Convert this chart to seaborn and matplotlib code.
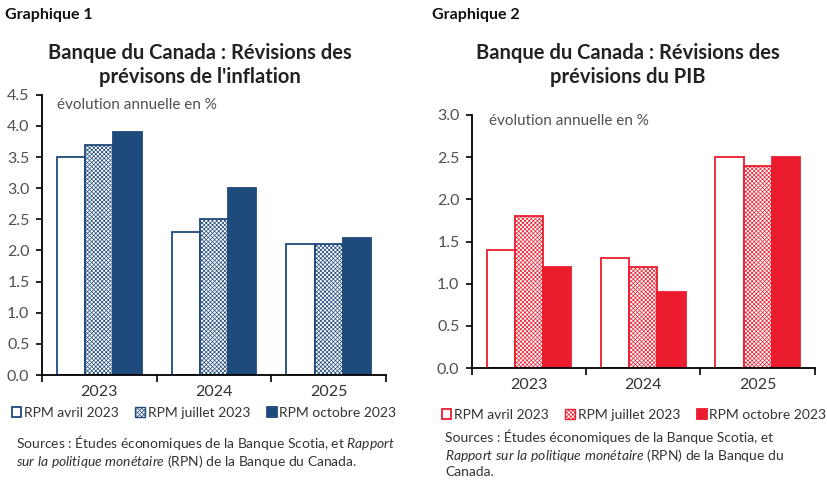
import pandas as pd
import seaborn as sns
import matplotlib.pyplot as plt
from matplotlib.patches import Patch

# Data
years = ['2023', '2024', '2025']
series = ['RPM avril 2023', 'RPM juillet 2023', 'RPM octobre 2023']
inflation_avr = [3.5, 2.3, 2.1]
inflation_juil = [3.7, 2.5, 2.1]
inflation_oct = [3.9, 3.0, 2.2]
pib_avr = [1.4, 1.3, 2.5]
pib_juil = [1.8, 1.2, 2.4]
pib_oct = [1.2, 0.9, 2.5]

navy = '#1F4A7C'
red = '#EC1C2F'
grey = '#505050'

sns.set_theme(style='white')
plt.rcParams['font.family'] = ['Lato', 'DejaVu Sans']
plt.rcParams['mathtext.fontset'] = 'custom'
plt.rcParams['mathtext.rm'] = 'Lato'
plt.rcParams['mathtext.it'] = 'Lato:italic'
plt.rcParams['hatch.linewidth'] = 0.5


def make_df(a, b, c):
    rows = []
    for vals, s in zip([a, b, c], series):
        for y, v in zip(years, vals):
            rows.append({'annee': y, 'serie': s, 'valeur': v})
    return pd.DataFrame(rows)


def draw_panel(ax, df, color, ymax):
    sns.barplot(data=df, x='annee', y='valeur', hue='serie', hue_order=series,
                order=years, width=0.74, ax=ax, legend=False, saturation=1)
    n = len(years)
    for i, p in enumerate(ax.patches[:3 * n]):
        s = i // n
        p.set_edgecolor(color)
        p.set_linewidth(1.3)
        if s == 0:
            p.set_facecolor('white')
        elif s == 1:
            p.set_facecolor('white')
            p.set_hatch('xxxxxxxx')
        else:
            p.set_facecolor(color)
    ax.set_xlim(-0.5, 2.5)
    ax.set_ylim(0, ymax)
    ax.set_xlabel('')
    ax.set_ylabel('')
    ax.set_yticks([x / 2 for x in range(int(ymax * 2) + 1)])
    ax.set_yticklabels([f'{x / 2:.1f}' for x in range(int(ymax * 2) + 1)])
    ax.set_xticks([-0.5, 0.5, 1.5, 2.5], minor=True)
    ax.tick_params(axis='x', which='major', length=0, pad=7, labelsize=11.5, labelcolor='#333333')
    ax.tick_params(axis='x', which='minor', length=5, width=1.2, direction='out', color='black', bottom=True)
    ax.tick_params(axis='y', which='major', length=4, width=1.2, direction='out', color='black', left=True,
                   labelsize=11.5, labelcolor=grey, pad=5)
    for side in ['top', 'right']:
        ax.spines[side].set_visible(False)
    for side in ['left', 'bottom']:
        ax.spines[side].set_color('black')
        ax.spines[side].set_linewidth(1.3)
    ax.text(0.045, 0.965, 'évolution annuelle en %', transform=ax.transAxes, fontsize=11,
            color=grey, va='center', ha='left')


fig = plt.figure(figsize=(8.28, 4.83), dpi=100)
ax1 = fig.add_axes([0.0507, 0.2236, 0.4155, 0.58])
ax2 = fig.add_axes([0.570, 0.238, 0.414, 0.524])

draw_panel(ax1, make_df(inflation_avr, inflation_juil, inflation_oct), navy, 4.5)
draw_panel(ax2, make_df(pib_avr, pib_juil, pib_oct), red, 3.0)
ax2.texts[0].set_position((0.05, 0.975))

# Titles
fig.text(5 / 828, 1 - 15 / 483, 'Graphique 1', fontsize=11.5, fontweight='bold', va='center', color='#111111')
fig.text(432 / 828, 1 - 15 / 483, 'Graphique 2', fontsize=11.5, fontweight='bold', va='center', color='#111111')
fig.text(200 / 828, 1 - 65 / 483, "Banque du Canada : Révisions des\nprévisons de l'inflation",
         fontsize=14.5, fontweight='bold', ha='center', va='center', color='#222222', linespacing=1.2)
fig.text(628 / 828, 1 - 65 / 483, "Banque du Canada : Révisions des\nprévisions du PIB",
         fontsize=14.5, fontweight='bold', ha='center', va='center', color='#222222', linespacing=1.2)


def legend_handles(color):
    return [Patch(facecolor='white', edgecolor=color, linewidth=1.3),
            Patch(facecolor='white', edgecolor=color, linewidth=1.0, hatch='xxxxxxxx'),
            Patch(facecolor=color, edgecolor=color, linewidth=1.3)]


for handles, x, y in [(legend_handles(navy), 204 / 828, 1 - 413 / 483),
                      (legend_handles(red), 634 / 828, 1 - 415 / 483)]:
    fig.legend(handles, series, loc='center', bbox_to_anchor=(x, y), ncol=3, frameon=False,
               fontsize=10, handlelength=0.7, handleheight=0.7, handletextpad=0.2,
               columnspacing=1.2, labelcolor='#333333', borderaxespad=0, borderpad=0)

# Sources
src = dict(fontsize=10, color='#333333', va='center')
fig.text(16 / 828, 1 - 443 / 483, 'Sources : Études économiques de la Banque Scotia, et $\\it{Rapport}$', **src)
fig.text(16 / 828, 1 - 461 / 483, '$\\it{sur\\ la\\ politique\\ monétaire}$ (RPN) de la Banque du Canada.', **src)
fig.text(445 / 828, 1 - 437 / 483, 'Sources : Études économiques de la Banque Scotia, et', **src)
fig.text(445 / 828, 1 - 455 / 483, '$\\it{Rapport\\ sur\\ la\\ politique\\ monétaire}$ (RPN) de la Banque du', **src)
fig.text(445 / 828, 1 - 472 / 483, 'Canada.', **src)

fig.savefig('out.png', dpi=100)
